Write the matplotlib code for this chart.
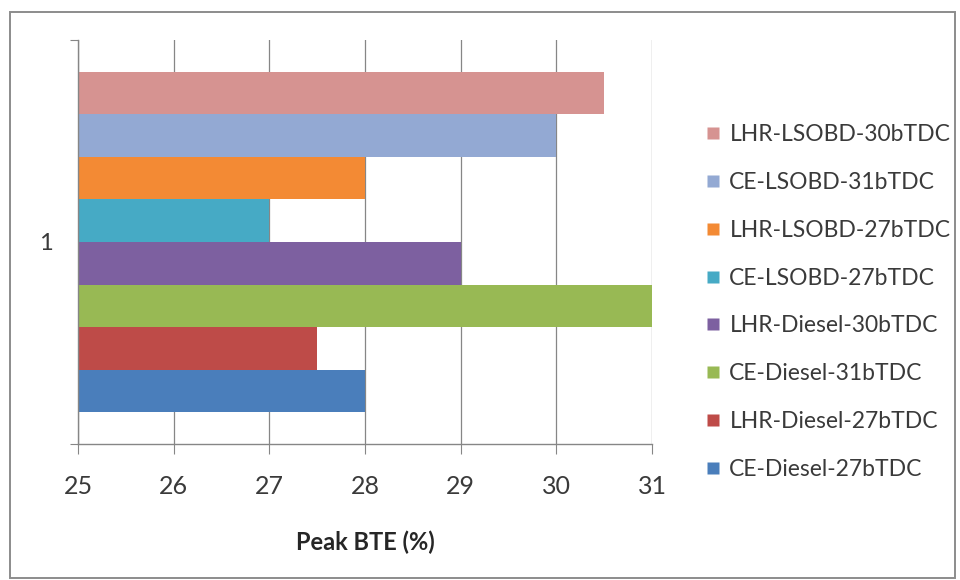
import matplotlib
matplotlib.use("Agg")
import matplotlib.pyplot as plt
from matplotlib.patches import Rectangle
from matplotlib.lines import Line2D

# Series in plotting order (first series sits at the bottom of the group)
series_names = [
    "CE-Diesel-27bTDC",
    "LHR-Diesel-27bTDC",
    "CE-Diesel-31bTDC",
    "LHR-Diesel-30bTDC",
    "CE-LSOBD-27bTDC",
    "LHR-LSOBD-27bTDC",
    "CE-LSOBD-31bTDC",
    "LHR-LSOBD-30bTDC",
]
peak_bte = [28.0, 27.5, 31.0, 29.0, 27.0, 28.0, 30.0, 30.5]
series_colors = [
    "#4A7EBB", "#BE4B48", "#98B954", "#7D60A0",
    "#46AAC5", "#F38A34", "#93A9D3", "#D69391",
]
category_labels = ["1"]
x_ticks = [25, 26, 27, 28, 29, 30, 31]
x_label = "Peak BTE (%)"

plt.rcParams["font.family"] = ["Lato", "DejaVu Sans"]
text_color = "#3A3A3A"

fig = plt.figure(figsize=(9.6, 5.8), dpi=100)

# Outer chart frame
fig.patches.append(Rectangle((10 / 960, 2 / 580), 945 / 960, 566 / 580,
                             transform=fig.transFigure, fill=False,
                             edgecolor="#8C8C8C", linewidth=1.4, zorder=0))

ax = fig.add_axes([78 / 960, 1 - 444 / 580, (652 - 78) / 960, (444 - 40) / 580])

n = len(series_names)
gap = 1.5
bar_h = 1.0 / (n + gap)
group_start = -0.5 + gap * bar_h / 2
for i, (name, val, col) in enumerate(zip(series_names, peak_bte, series_colors)):
    yc = group_start + bar_h * (i + 0.5)
    ax.barh(yc, val - x_ticks[0], left=x_ticks[0], height=bar_h,
            color=col, edgecolor="none", zorder=2, label=name)

ax.set_xlim(x_ticks[0], x_ticks[-1])
ax.set_ylim(-0.5, 0.5)
ax.set_xticks(x_ticks)
ax.set_xticklabels([str(t) for t in x_ticks], fontsize=18, color=text_color)
ax.set_yticks([-0.5, 0.5])
ax.set_yticklabels(["", ""])
ax.set_yticks([0], minor=True)
ax.set_yticklabels(category_labels, minor=True, fontsize=17, color=text_color)
ax.tick_params(axis="y", which="minor", length=0, pad=18)
ax.tick_params(axis="y", which="major", length=6, color="#868686", direction="out")
ax.tick_params(axis="x", length=7, color="#868686", direction="out", pad=15)

ax.grid(axis="x", color="#868686", linewidth=0.9, zorder=1)
for side in ("top", "right"):
    ax.spines[side].set_visible(False)
for side in ("left", "bottom"):
    ax.spines[side].set_color("#868686")
    ax.spines[side].set_linewidth(1.0)

ax.set_xlabel(x_label, fontsize=17, fontweight="bold", color="#262626", labelpad=24)

# Legend listed top-to-bottom in the same order as the stacked bars
handles = [Line2D([], [], marker="s", linestyle="none", markersize=8,
                  markerfacecolor=c, markeredgecolor="none")
           for c in series_colors[::-1]]
fig.legend(handles, series_names[::-1], loc="upper left",
           bbox_to_anchor=(695 / 960, 1 - 115 / 580), frameon=False,
           fontsize=16.5, labelspacing=1.17, handlelength=0.8,
           handletextpad=0.3, labelcolor=text_color, borderaxespad=0)

fig.savefig("out.png", dpi=100)
